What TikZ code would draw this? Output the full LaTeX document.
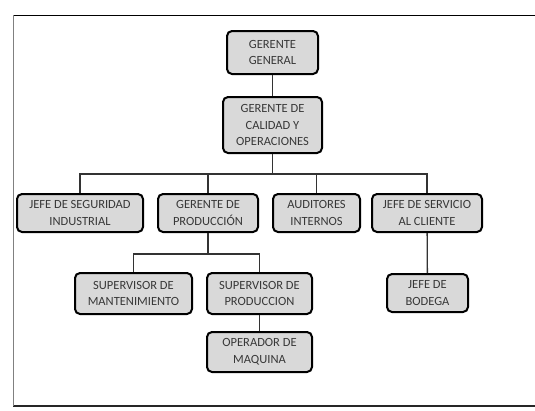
\documentclass[tikz,border=0pt]{standalone}
\usepackage{fontspec}
\setmainfont{Carlito}
\usepackage{tikz}
\usetikzlibrary{arrows.meta}
\definecolor{boxgray}{rgb}{0.85,0.85,0.85}
\definecolor{txtgray}{rgb}{0.22,0.22,0.22}
\definecolor{linegray}{rgb}{0.2,0.2,0.2}

\begin{document}
\begin{tikzpicture}[x=1pt,y=-1pt]
\useasboundingbox (0,0) rectangle (535,410);
% frame
\draw[black,line width=1pt] (13,15) -- (536,15);
\draw[black!85,line width=1.2pt] (13,406) -- (536,406);
\draw[gray,line width=1.8pt] (13.5,15) -- (13.5,406);

\begin{scope}[every node/.style={rectangle,rounded corners=5pt,line width=2pt,draw,fill=boxgray,
    text=txtgray,align=center,inner sep=1pt,font=\fontsize{12.5}{16.5}\selectfont}]
    \node[minimum width=91pt,minimum height=43pt] (GG) at (272.5,52.5) {GERENTE\\GENERAL};
    \node[minimum width=99pt,minimum height=56pt] (GCO) at (272.5,125) {GERENTE DE\\CALIDAD Y\\OPERACIONES};
    \node[minimum width=126pt,minimum height=38pt] (JSI) at (80,213) {JEFE DE SEGURIDAD\\INDUSTRIAL};
    \node[minimum width=100pt,minimum height=38pt] (GP) at (208,213) {GERENTE DE\\PRODUCCIÓN};
    \node[minimum width=87pt,minimum height=38pt] (AI) at (316.5,213) {AUDITORES\\INTERNOS};
    \node[minimum width=110pt,minimum height=38pt] (JSC) at (427,213) {JEFE DE SERVICIO\\AL CLIENTE};
    \node[minimum width=117pt,minimum height=41pt] (SM) at (133.5,293.5) {SUPERVISOR DE\\MANTENIMIENTO};
    \node[minimum width=105pt,minimum height=41pt] (SP) at (259.5,293.5) {SUPERVISOR DE\\PRODUCCION};
    \node[minimum width=81pt,minimum height=38pt] (JB) at (427.5,293) {JEFE DE\\BODEGA};
    \node[minimum width=105pt,minimum height=40pt] (OM) at (259.5,352) {OPERADOR DE\\MAQUINA};
\end{scope}

\coordinate (bus1) at (272.5,174);
\coordinate (bus2) at (208,254);

\begin{scope}[every edge/.style={draw=linegray,line width=1.3pt},
              tree/.style={to path={|- (\tikztotarget)}}]
    \path (GG) edge (GCO);
    \path (GCO) edge (bus1);
    \path (JSI) edge[tree] (bus1);
    \path (GP) edge[tree] (bus1);
    \path (AI) edge[tree] (bus1);
    \path (JSC) edge[tree] (bus1);
    \path (GP) edge (bus2);
    \path (SM) edge[tree] (bus2);
    \path (SP) edge[tree] (bus2);
    \path (SP) edge (OM);
    \path (JSC) edge (JB);
\end{scope}
\end{tikzpicture}
\end{document}
